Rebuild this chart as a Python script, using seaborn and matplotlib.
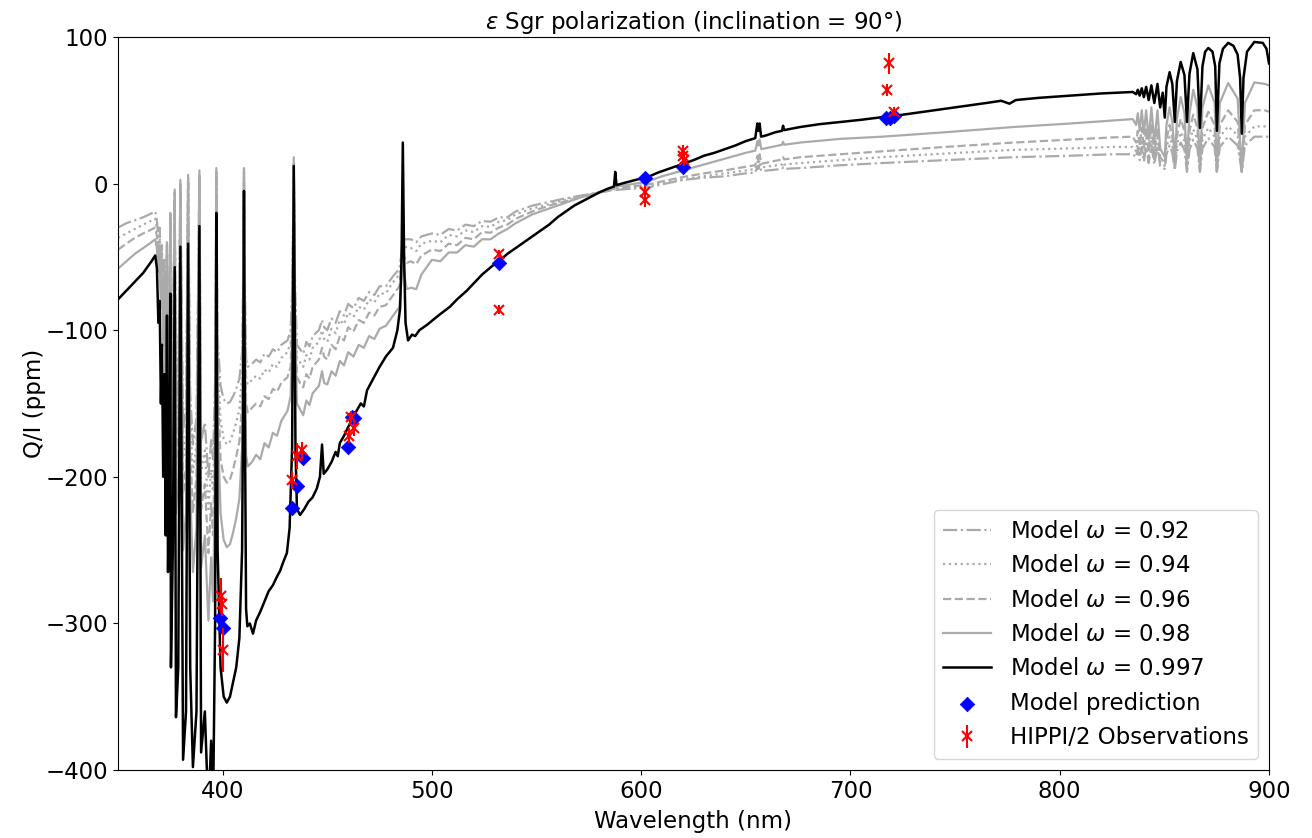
import matplotlib
matplotlib.use("Agg")
import matplotlib.pyplot as plt
import seaborn as sns
import pandas as pd

# ---------------- data (wavelength nm, Q/I ppm) ----------------
model_092 = [(350, -30), (354, -27), (358, -25), (362, -23), (365, -21), (367.8, -19), (368.6, -25), (369.3, -36),
             (369.9, -30), (370.5, -54), (371, -42), (371.6, -72), (372.2, -52), (372.8, -96), (373.4, -48), (373.9, -120),
             (374.5, -92), (375, -28), (375.3, -135), (376.2, -112), (377.1, -10), (377.7, -150), (378.8, -136), (379.8, -4),
             (381.1, -168), (382.5, -152), (383.5, 0), (384.5, -143), (385.8, -178), (387.5, -160), (388.9, 3), (389.7, -176),
             (391.5, -163), (393.2, -200), (394.5, -175), (395.4, -188), (396.4, -135), (397, 4), (397.6, -105), (399, -138),
             (400.5, -147), (402, -150), (403.5, -149), (405, -145), (406.5, -140), (408, -133), (409.3, -115), (409.8, -65),
             (410.2, 4), (410.6, -65), (411.2, -120), (412, -125), (414, -123), (416, -120), (418, -122), (420, -116),
             (422, -118), (424, -113), (426, -115), (428, -110), (431, -107), (432.5, -100), (433.3, -70), (434, 11),
             (434.6, -70), (435.5, -110), (437, -113), (438.5, -116), (440, -108), (441.5, -111), (443, -104), (446, -100),
             (447.5, -93), (448.5, -98), (450, -100), (452, -92), (454, -95), (456, -87), (458, -90), (460, -82),
             (462.5, -85), (465, -78), (467.5, -80), (470, -74), (472.5, -76), (475, -70), (478, -70), (481, -64),
             (484.5, -58), (485.5, -47), (486.1, -36), (486.8, -38), (488, -38), (490, -38), (492.5, -40), (495, -36),
             (500, -34), (504, -35), (508, -31), (512, -32), (516, -28), (520, -29), (524, -25.5), (528, -26), (532, -23),
             (536, -23), (540, -19), (548, -15), (556, -12.5), (564, -10), (572, -8), (580, -6), (587, -4.5), (587.6, -2.5),
             (588.2, -4.3), (595, -3.5), (602, -3), (610, -0.5), (620, 2.5), (630, 4), (640, 5), (650, 7), (654.5, 7.5),
             (655.6, 12), (656, 10), (656.6, 13), (657.4, 8.5), (667.3, 10), (667.8, 11), (668.3, 10), (676, 10.6),
             (695, 12.5), (715, 14), (745, 16), (778, 18), (805, 19), (825, 20), (834.9, 20), (836.5, 18), (837.3, 24),
             (838.2, 16), (839.2, 25), (840.2, 15), (841.3, 25), (842.5, 14), (843.8, 26), (845.2, 13), (846.7, 26),
             (848, 12), (850.2, 10), (851, 20), (852.5, 26), (853.8, 21), (855, 9), (856, 22), (857.8, 28), (859.6, 23),
             (860.8, 8), (862, 23), (863.8, 30), (865.8, 24), (867, 8), (868.2, 24), (871, 31), (874, 25), (875.1, 8),
             (876.5, 25), (880.5, 32), (885, 26), (887, 8), (888.5, 26), (893, 32), (898, 32), (900, 32)]

model_094 = [(350, -37), (354, -34), (358, -31), (362, -28), (365, -26), (367.8, -24), (368.6, -30), (369.3, -42),
             (369.9, -35), (370.5, -62), (371, -48), (371.6, -82), (372.2, -60), (372.8, -108), (373.4, -45), (373.9, -135),
             (374.5, -102), (375, -25), (375.3, -152), (376.2, -125), (377.1, -8), (377.7, -168), (378.8, -152), (379.8, -2),
             (381.1, -187), (382.5, -170), (383.5, 2), (384.5, -160), (385.8, -197), (387.5, -178), (388.9, 5), (389.7, -196),
             (391.5, -182), (393.2, -222), (394.5, -195), (395.4, -210), (396.4, -150), (397, 6), (397.6, -118), (399, -162),
             (400.5, -174), (402, -178), (403.5, -176), (405, -170), (406.5, -163), (408, -154), (409.3, -130), (409.8, -75),
             (410.2, 6), (410.6, -75), (411.2, -132), (412, -137), (414, -134), (416, -131), (418, -133), (420, -127),
             (422, -129), (424, -123), (426, -125), (428, -119), (431, -115), (432.5, -108), (433.3, -75), (434, 13),
             (434.6, -75), (435.5, -119), (437, -122), (438.5, -125), (440, -117), (441.5, -120), (443, -112), (446, -108),
             (447.5, -100), (448.5, -106), (450, -108), (452, -99), (454, -102), (456, -93), (458, -96), (460, -88),
             (462.5, -91), (465, -84), (467.5, -86), (470, -79), (472.5, -81), (475, -75), (478, -75), (481, -68),
             (484.5, -62), (485.5, -50), (486.1, -38), (486.8, -42), (488, -44), (490, -44), (492.5, -46), (495, -41),
             (500, -39), (504, -40), (508, -35), (512, -36), (516, -32), (520, -33), (524, -29), (528, -29.5), (532, -26),
             (536, -25), (540, -21), (548, -17), (556, -14), (564, -11), (572, -8), (580, -6), (587, -4), (587.6, -1.5),
             (588.2, -3.8), (595, -3), (602, -2), (610, 0.5), (620, 3), (630, 5), (640, 7), (650, 9), (654.5, 10),
             (655.6, 15), (656, 13), (656.6, 16), (657.4, 11), (667.3, 13), (667.8, 14.5), (668.3, 13), (676, 14),
             (695, 16), (715, 18), (745, 20.5), (778, 23), (805, 24), (825, 25), (834.9, 25), (836.5, 22), (837.3, 29),
             (838.2, 20), (839.2, 30), (840.2, 18), (841.3, 31), (842.5, 17), (843.8, 32), (845.2, 16), (846.7, 31),
             (848, 15), (850.2, 12), (851, 25), (852.5, 32), (853.8, 26), (855, 11), (856, 27), (857.8, 35), (859.6, 29),
             (860.8, 10), (862, 29), (863.8, 37), (865.8, 30), (867, 9), (868.2, 30), (871, 38), (874, 32), (875.1, 8),
             (876.5, 32), (880.5, 39), (885, 33), (887, 8), (888.5, 32), (893, 39), (898, 39), (900, 38)]

model_096 = [(350, -45), (354, -41), (358, -37), (362, -34), (365, -32), (367.8, -30), (368.6, -36), (369.3, -50),
             (369.9, -42), (370.5, -72), (371, -55), (371.6, -95), (372.2, -70), (372.8, -122), (373.4, -42), (373.9, -150),
             (374.5, -115), (375, -22), (375.3, -172), (376.2, -140), (377.1, -6), (377.7, -192), (378.8, -172), (379.8, 0),
             (381.1, -212), (382.5, -192), (383.5, 4), (384.5, -180), (385.8, -224), (387.5, -200), (388.9, 7), (389.7, -222),
             (391.5, -205), (393.2, -252), (394.5, -218), (395.4, -240), (396.4, -170), (397, 8), (397.6, -135), (399, -188),
             (400.5, -200), (402, -204), (403.5, -202), (405, -195), (406.5, -186), (408, -176), (409.3, -150), (409.8, -85),
             (410.2, 8), (410.6, -85), (411.2, -150), (412, -156), (414, -153), (416, -150), (418, -152), (420, -145),
             (422, -147), (424, -140), (426, -142), (428, -136), (431, -132), (432.5, -125), (433.3, -85), (434, 15),
             (434.6, -85), (435.5, -132), (437, -136), (438.5, -139), (440, -130), (441.5, -133), (443, -125), (446, -120),
             (447.5, -112), (448.5, -118), (450, -120), (452, -110), (454, -113), (456, -104), (458, -107), (460, -98),
             (462.5, -101), (465, -93), (467.5, -95), (470, -88), (472.5, -90), (475, -84), (478, -83), (481, -77),
             (484.5, -70), (485.5, -55), (486.1, -40), (486.8, -50), (488, -54), (490, -53), (492.5, -55), (495, -49),
             (500, -45), (504, -46), (508, -41), (512, -42), (516, -37), (520, -38), (524, -33), (528, -33.5), (532, -30),
             (536, -28), (540, -24), (548, -19), (556, -15), (564, -12), (572, -9), (580, -6), (587, -3.5), (587.6, 0),
             (588.2, -3), (595, -2), (602, -1), (610, 1.5), (620, 4.5), (630, 7), (640, 9), (650, 11.5), (654.5, 12.5),
             (655.6, 19), (656, 16), (656.6, 20), (657.4, 13.5), (667.3, 16.5), (667.8, 18), (668.3, 16.5), (676, 18),
             (695, 20), (715, 22), (745, 25), (778, 28), (805, 30), (825, 31.5), (834.9, 32), (836.5, 28), (837.3, 36),
             (838.2, 26), (839.2, 38), (840.2, 24), (841.3, 38), (842.5, 22), (843.8, 40), (845.2, 20), (846.7, 38),
             (848, 18), (850.2, 14), (851, 30), (852.5, 40), (853.8, 32), (855, 12), (856, 33), (857.8, 44), (859.6, 36),
             (860.8, 10), (862, 36), (863.8, 47), (865.8, 38), (867, 9), (868.2, 38), (871, 49), (874, 40), (875.1, 8),
             (876.5, 40), (880.5, 50), (885, 42), (887, 8), (888.5, 40), (893, 50), (898, 50), (900, 49)]

model_098 = [(350, -58), (354, -53), (358, -48), (362, -44), (365, -41), (367.8, -38), (368.6, -44), (369.3, -60),
             (369.9, -50), (370.5, -85), (371, -65), (371.6, -110), (372.2, -80), (372.8, -140), (373.4, -40), (373.9, -170),
             (374.5, -130), (375, -20), (375.3, -200), (376.2, -160), (377.1, -4), (377.7, -225), (378.8, -200), (379.8, 2.5),
             (381.1, -250), (382.5, -225), (383.5, 6), (384.5, -210), (385.8, -265), (387.5, -235), (388.9, 9), (389.7, -262),
             (391.5, -240), (393.2, -298), (394.5, -255), (395.4, -285), (396.4, -200), (397, 10.6), (397.6, -160),
             (399, -225), (400.5, -243), (402, -248), (403.5, -246), (405, -238), (406.5, -228), (408, -215), (409.3, -180),
             (409.8, -100), (410.2, 10.6), (410.6, -100), (411.2, -185), (412, -193), (414, -190), (416, -185),
             (418, -188), (420, -177), (422, -180), (424, -170), (426, -172), (428, -162), (431, -155), (432.5, -145),
             (433.3, -100), (434, 18), (434.6, -100), (435.5, -150), (437, -154), (438.5, -158), (440, -148),
             (441.5, -151), (443, -143), (446, -138), (447.5, -128), (448.5, -136), (450, -137), (452, -128), (454, -131),
             (456, -121), (458, -124), (460, -115), (462.5, -118), (465, -110), (467.5, -112), (470, -104), (472.5, -106),
             (475, -99), (478, -97), (481, -91), (484.5, -84), (485.5, -65), (486.1, -43), (486.8, -62), (488, -72),
             (490, -71), (492.5, -72), (495, -62), (500, -52), (504, -53), (508, -47), (512, -47), (516, -42), (520, -43),
             (524, -38), (528, -38), (532, -34), (536, -31), (540, -27), (548, -21), (556, -17), (564, -13), (572, -9),
             (580, -6), (587, -2.5), (587.6, 3), (588.2, -2), (595, -0.5), (602, 1), (610, 5), (620, 9), (630, 13),
             (640, 17), (650, 21), (654.5, 22.5), (655.6, 29), (656, 26), (656.6, 30), (657.4, 23.5), (667.3, 26.5),
             (667.8, 28.5), (668.3, 26.5), (676, 28), (695, 30.5), (715, 32), (745, 35), (778, 38.6), (805, 41), (825, 43),
             (834.9, 44), (836.5, 40), (837.3, 48), (838.2, 36), (839.2, 50), (840.2, 34), (841.3, 50), (842.5, 30),
             (843.8, 52), (845.2, 28), (846.7, 50), (848, 24), (850.2, 18), (851, 40), (852.5, 52), (853.8, 42), (855, 16),
             (856, 44), (857.8, 59), (859.6, 48), (860.8, 14), (862, 48), (863.8, 64), (865.8, 52), (867, 12), (868.2, 52),
             (871, 67), (874, 55), (875.1, 10), (876.5, 55), (880.5, 68.6), (885, 58), (887, 9), (888.5, 55), (893, 69),
             (898, 68), (900, 67)]

model_0997 = [(350, -79), (352, -76), (354, -73), (356, -70), (358, -67), (360, -64), (362, -61), (364, -57), (366, -53),
              (367.8, -49), (368.6, -58), (369.3, -95), (369.9, -80), (370.5, -150), (371, -110), (371.6, -200),
              (372.2, -130), (372.8, -240), (373.4, -90), (373.9, -265), (374.5, -200), (375, -75), (375.3, -330),
              (376.2, -250), (377.1, -57), (377.7, -364), (378.8, -330), (379.8, -43), (381.1, -393), (382.5, -360),
              (383.5, -41), (384.5, -330), (385.8, -398), (387.5, -360), (388.9, -29), (389.7, -388), (391.5, -360),
              (393.2, -430), (394.5, -380), (395.4, -430), (396.4, -300), (397, -20), (397.6, -250), (399, -330),
              (400.5, -350), (402, -354), (403.5, -350), (405, -340), (406.5, -330), (408, -310), (409.3, -250),
              (409.8, -150), (410.2, -5), (410.6, -150), (411.2, -290), (411.8, -302), (413, -300), (414.5, -307),
              (416, -298), (418, -292), (420, -285), (422, -278), (424, -274), (426, -268), (427.5, -264), (429, -258),
              (430.7, -252), (432, -235), (433.2, -180), (433.7, -60), (434, 12), (434.3, -60), (434.8, -180),
              (435.5, -222), (437, -226), (439, -222), (441, -217), (443, -214), (445, -208), (446.5, -200),
              (447.5, -178), (448.3, -198), (450, -195), (452, -190), (454, -183), (455, -186), (456, -177), (458, -172),
              (460, -166), (462, -161), (464, -155), (466, -150), (467.5, -152), (469, -141), (472, -133), (475, -125),
              (478, -118), (481.4, -112), (483.5, -100), (484.8, -85), (485.5, -50), (486.1, 28), (486.7, -50),
              (487.4, -95), (488.6, -107), (490.5, -103), (492, -104), (494, -100), (496, -98), (498, -96), (500.5, -93),
              (504, -89), (508.6, -84), (512, -79), (516.7, -73), (520, -68), (524, -62), (529, -56), (532, -53),
              (536, -48), (540, -44), (544, -40), (548, -36), (552, -32), (556, -28), (560, -23), (564, -19), (568, -15),
              (572, -12), (576, -9), (580, -6), (584, -3.5), (587, -2), (587.6, 8), (588.2, -1), (592, 0.5), (596, 2),
              (600, 3.5), (604, 5), (608, 7.5), (612, 9.5), (616, 11.5), (620, 13.5), (625, 16), (630, 19), (635, 21),
              (640, 23.5), (645, 26), (650, 29), (654.5, 31), (655.5, 41), (656, 36), (656.6, 41), (657.3, 32), (660, 33),
              (664, 35), (667.3, 36), (667.8, 39.5), (668.3, 36.5), (672, 37.5), (676, 38.6), (685, 40.5), (695, 42),
              (705, 43.5), (715.5, 45.4), (725, 47), (735, 49), (745, 51), (755, 53), (765, 55), (772, 56.5), (776, 54.5),
              (779, 57), (790, 58.5), (800, 59.5), (810, 60.5), (820, 61.5), (828, 62), (834.9, 62.5), (836.5, 61),
              (837.3, 64), (838.2, 60), (839.2, 65), (840.2, 59), (841.3, 66), (842.5, 57), (843.8, 67), (845.2, 55),
              (846.7, 68), (848, 52), (849.2, 62), (850.2, 45), (851, 66), (852.5, 76), (853.8, 68), (855, 42), (856, 70),
              (857.8, 83), (859.6, 74), (860.8, 42), (862, 75), (863.8, 89), (865.8, 78), (867, 38), (868.2, 80),
              (869.5, 90), (871, 92.5), (873, 90), (874.3, 80), (875.1, 36), (876.3, 82), (878, 92), (880.5, 96), (883, 94),
              (885, 88), (886.2, 72), (887, 34), (887.8, 72), (889.5, 90), (893, 96.6), (897, 96), (898.8, 92), (900, 82)]

# model prediction points (blue diamonds)
pred_wl = [398.7, 400.2, 433.1, 435.5, 438.4, 460.0, 461.8, 462.6, 532.2, 601.8, 620.0, 717.2, 719.0, 721.0]
pred_q = [-296, -303, -221, -206, -187, -180, -159, -160, -54, 4, 11, 45, 45, 46]

# HIPPI/2 observations (red, with error bars)
obs_wl = [399.2, 399.6, 400.0, 433.0, 435.5, 437.8, 460.3, 461.5, 463.0, 532.0, 532.0, 601.8, 601.8,
          619.8, 620.2, 620.6, 718.4, 717.6, 721.0]
obs_q = [-281, -287, -318, -202, -186, -182, -172, -159, -167, -48, -86, -6, -11, 22, 19, 16, 82, 64, 49]
obs_err = [12, 8, 15, 6, 9, 6, 5, 4, 5, 3, 3, 5, 5, 4, 4, 4, 7, 4, 3]

series = [
    ("Model $\\omega$ = 0.92", model_092, "#aaaaaa", "-.", 1.6),
    ("Model $\\omega$ = 0.94", model_094, "#aaaaaa", ":", 1.6),
    ("Model $\\omega$ = 0.96", model_096, "#aaaaaa", "--", 1.6),
    ("Model $\\omega$ = 0.98", model_098, "#aaaaaa", "-", 1.6),
    ("Model $\\omega$ = 0.997", model_0997, "black", "-", 1.8),
]

# ---------------- plotting ----------------
plt.rcParams['font.family'] = ['DejaVu Sans']
fig = plt.figure(figsize=(13.12, 8.38), dpi=100)
ax = fig.add_axes([118 / 1312, 1 - 770 / 838, (1269 - 118) / 1312, (770 - 37) / 838])

for label, pairs, color, ls, lw in series:
    df = pd.DataFrame(pairs, columns=["wl", "q"])
    sns.lineplot(data=df, x="wl", y="q", ax=ax, color=color, linestyle=ls, linewidth=lw,
                 label=label, estimator=None, sort=False)

pred_df = pd.DataFrame({"wl": pred_wl, "q": pred_q})
sns.scatterplot(data=pred_df, x="wl", y="q", ax=ax, marker="D", s=55, color="blue",
                edgecolor="blue", linewidth=0.5, label="Model prediction", zorder=4)

ax.errorbar(obs_wl, obs_q, yerr=obs_err, fmt="x", color="red", ms=7, mew=1.5,
            elinewidth=1.5, label="HIPPI/2 Observations", zorder=5)

ax.set_xlim(350, 900)
ax.set_ylim(-400, 100)
ax.set_xticks([400, 500, 600, 700, 800, 900])
ax.set_yticks([-400, -300, -200, -100, 0, 100])
ax.tick_params(labelsize=16.5)
ax.set_xlabel("Wavelength (nm)", fontsize=16.5, labelpad=5)
ax.set_ylabel("Q/I (ppm)", fontsize=16.5, labelpad=0)
ax.set_title("$\\varepsilon$ Sgr polarization (inclination = 90°)", fontsize=16.5, pad=6)

handles, labels = ax.get_legend_handles_labels()
ax.legend(handles, labels, loc="lower right", fontsize=16.5, handlelength=2.1)

fig.savefig("out.png", dpi=100)
